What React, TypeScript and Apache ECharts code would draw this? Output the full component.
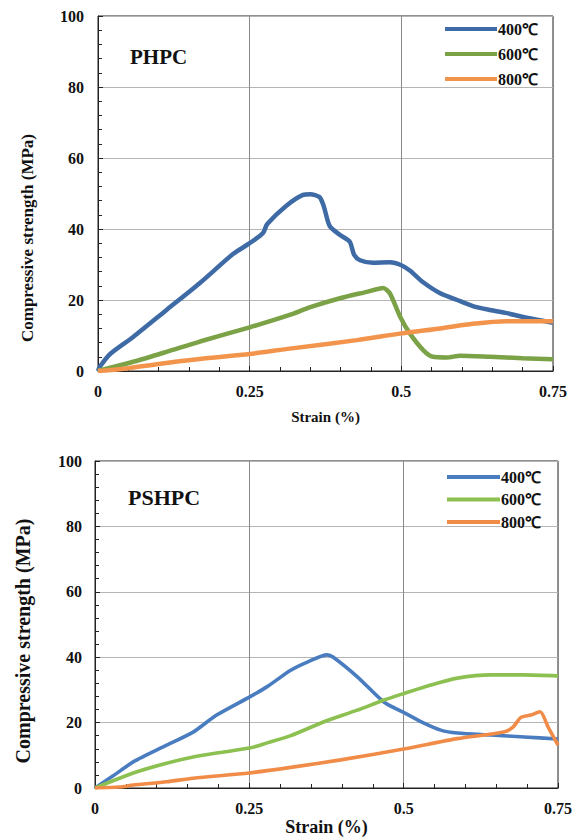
import React, { useEffect, useRef } from "react";
import * as echarts from "echarts";

// ---------- PHPC (top chart) ----------
const phpc400Strain = [0, 0.003, 0.02, 0.058, 0.113, 0.168, 0.223, 0.25, 0.272, 0.279, 0.31, 0.338, 0.35, 0.365, 0.372, 0.382, 0.399, 0.415, 0.422, 0.432, 0.453, 0.481, 0.5, 0.514, 0.536, 0.564, 0.592, 0.618, 0.646, 0.674, 0.701, 0.75];
const phpc400Value = [0, 1.2, 4.8, 9.6, 17.2, 24.8, 33, 36, 38.9, 41.4, 46.5, 49.6, 49.8, 49, 46.5, 40.8, 38.3, 36.4, 32.8, 31.2, 30.5, 30.6, 29.8, 28.3, 25, 21.9, 20, 18.3, 17.2, 16.3, 15.2, 13.6];

const phpc600Strain = [0, 0.058, 0.113, 0.168, 0.25, 0.316, 0.35, 0.399, 0.443, 0.47, 0.481, 0.498, 0.514, 0.536, 0.552, 0.575, 0.597, 0.646, 0.7, 0.75];
const phpc600Value = [0, 2.6, 5.4, 8.3, 12.3, 15.8, 18, 20.5, 22.3, 23.4, 21.9, 15.3, 10.6, 5.9, 4.0, 3.8, 4.3, 4.0, 3.6, 3.3];

const phpc800Strain = [0, 0.05, 0.1, 0.168, 0.25, 0.316, 0.427, 0.5, 0.564, 0.618, 0.674, 0.75];
const phpc800Value = [0, 0.8, 2, 3.4, 4.8, 6.3, 8.7, 10.6, 12, 13.3, 14, 14];

// ---------- PSHPC (bottom chart) ----------
const pshpc400Strain = [0, 0.03, 0.062, 0.116, 0.159, 0.197, 0.25, 0.279, 0.317, 0.344, 0.376, 0.386, 0.425, 0.468, 0.502, 0.532, 0.56, 0.587, 0.641, 0.695, 0.75];
const pshpc400Value = [0, 3.8, 8, 13.1, 17.1, 22.3, 27.8, 31, 36, 38.5, 40.7, 40, 34, 26.3, 22.9, 19.9, 17.7, 16.8, 16.2, 15.6, 15];

const pshpc600Strain = [0, 0.062, 0.116, 0.159, 0.197, 0.25, 0.279, 0.317, 0.37, 0.425, 0.468, 0.502, 0.544, 0.587, 0.641, 0.695, 0.75];
const pshpc600Value = [0, 4.6, 7.6, 9.5, 10.7, 12.2, 13.8, 16, 20.2, 23.8, 26.9, 29, 31.5, 33.6, 34.6, 34.6, 34.3];

const pshpc800Strain = [0, 0.04, 0.062, 0.116, 0.159, 0.25, 0.317, 0.398, 0.502, 0.587, 0.662, 0.677, 0.69, 0.706, 0.721, 0.734, 0.75];
const pshpc800Value = [0, 0.3, 0.9, 1.9, 3, 4.6, 6.3, 8.6, 12, 15.1, 17.1, 18.6, 21.6, 22.3, 23.3, 18.6, 13.1];

const seriesNames = ["400℃", "600℃", "800℃"];
const xTicks = [0, 0.25, 0.5, 0.75];
const yTicks = [0, 20, 40, 60, 80, 100];
const panelTitles = ["PHPC", "PSHPC"];
const xAxisName = "Strain (%)";
const yAxisName = "Compressive strength (MPa)";

const topColors = ["#3E6BA5", "#7BA246", "#F3944D"];
const bottomColors = ["#4A7CC0", "#8CC050", "#F08C48"];

const zip = (xs: number[], ys: number[]) => xs.map((x, i) => [x, ys[i]]);

const SERIF = "Liberation Serif";

function makeX(gridIndex: number, nameGap: number, nameSize: number) {
  return {
    gridIndex,
    type: "value",
    min: xTicks[0],
    max: xTicks[xTicks.length - 1],
    interval: 0.25,
    name: xAxisName,
    nameLocation: "middle",
    nameGap,
    nameTextStyle: { fontFamily: SERIF, fontWeight: "bold", fontSize: nameSize, color: "#111" },
    axisLine: { show: true, lineStyle: { color: "#222", width: 1 } },
    axisTick: { show: true, inside: true, length: 5, lineStyle: { color: "#222" } },
    minorTick: { show: true, splitNumber: 5, length: 4, lineStyle: { color: "#222" } },
    splitLine: { show: true, lineStyle: { color: "#8a8a8a", width: 1 } },
    axisLabel: { fontFamily: SERIF, fontWeight: "bold", fontSize: 16, color: "#111", margin: 12 },
  };
}

function makeY(gridIndex: number, margin: number) {
  return {
    gridIndex,
    type: "value",
    min: yTicks[0],
    max: yTicks[yTicks.length - 1],
    interval: 20,
    axisLine: { show: true, lineStyle: { color: "#222", width: 1 } },
    axisTick: { show: true, inside: true, length: 5, lineStyle: { color: "#222" } },
    minorTick: { show: true, splitNumber: 5, length: 4, lineStyle: { color: "#222" } },
    splitLine: { show: true, lineStyle: { color: "#b5b5b5", width: 1 } },
    axisLabel: { fontFamily: SERIF, fontWeight: "bold", fontSize: 16, color: "#111", margin },
  };
}

export default function App() {
  const ref = useRef<HTMLDivElement>(null);
  useEffect(() => {
    if (!ref.current) return;
    const chart = echarts.init(ref.current, null, { renderer: "svg" });
    const topData = [zip(phpc400Strain, phpc400Value), zip(phpc600Strain, phpc600Value), zip(phpc800Strain, phpc800Value)];
    const bottomData = [zip(pshpc400Strain, pshpc400Value), zip(pshpc600Strain, pshpc600Value), zip(pshpc800Strain, pshpc800Value)];
    const series: any[] = [];
    seriesNames.forEach((n, i) => {
      series.push({
        name: n,
        type: "line",
        xAxisIndex: 0,
        yAxisIndex: 0,
        data: topData[i],
        showSymbol: false,
        symbol: "none",
        smooth: 0.25,
        lineStyle: { color: topColors[i], width: 4.5 },
        itemStyle: { color: topColors[i] },
      });
    });
    seriesNames.forEach((n, i) => {
      series.push({
        name: n + " ",
        type: "line",
        xAxisIndex: 1,
        yAxisIndex: 1,
        data: bottomData[i],
        showSymbol: false,
        symbol: "none",
        smooth: 0.25,
        lineStyle: { color: bottomColors[i], width: 3.6 },
        itemStyle: { color: bottomColors[i] },
      });
    });
    chart.setOption({
      animation: false,
      backgroundColor: "#ffffff",
      textStyle: { fontFamily: SERIF },
      grid: [
        { left: 98, top: 16, width: 455, height: 355, show: true, borderColor: "#222", borderWidth: 1 },
        { left: 95, top: 461, width: 463, height: 327, show: true, borderColor: "#222", borderWidth: 1 },
      ],
      xAxis: [makeX(0, 38, 15), makeX(1, 30, 18)],
      yAxis: [makeY(0, 14), makeY(1, 13)],
      legend: [
        {
          data: seriesNames,
          orient: "vertical",
          left: 440,
          top: 16,
          padding: 5,
          icon: "rect",
          itemWidth: 52,
          itemHeight: 4,
          itemGap: 9,
          selectedMode: false,
          textStyle: { fontFamily: SERIF, fontWeight: "bold", fontSize: 16, lineHeight: 15, color: "#111", padding: [0, 0, 0, -4] },
        },
        {
          data: seriesNames.map((n) => n + " "),
          formatter: (n: string) => n.trim(),
          orient: "vertical",
          left: 442,
          top: 464,
          padding: 5,
          icon: "rect",
          itemWidth: 53,
          itemHeight: 4,
          itemGap: 6.5,
          selectedMode: false,
          textStyle: { fontFamily: SERIF, fontWeight: "bold", fontSize: 16, lineHeight: 16, color: "#111", padding: [0, 0, 0, -4] },
        },
      ],
      graphic: [
        {
          type: "text",
          left: 130,
          top: 46,
          style: { text: panelTitles[0], fontFamily: SERIF, fontWeight: "bold", fontSize: 21, fill: "#111" },
        },
        {
          type: "text",
          left: 128,
          top: 486,
          style: { text: panelTitles[1], fontFamily: SERIF, fontWeight: "bold", fontSize: 22, fill: "#111" },
        },
        {
          type: "text",
          x: 27,
          y: 238,
          rotation: Math.PI / 2,
          style: { text: yAxisName, fontFamily: SERIF, fontWeight: "bold", fontSize: 17, fill: "#111", align: "center", verticalAlign: "middle" },
        },
        {
          type: "text",
          x: 23,
          y: 641,
          rotation: Math.PI / 2,
          style: { text: yAxisName, fontFamily: SERIF, fontWeight: "bold", fontSize: 20, fill: "#111", align: "center", verticalAlign: "middle" },
        },
      ],
      series,
    });
    return () => chart.dispose();
  }, []);
  return <div ref={ref} style={{ position: "absolute", left: 0, top: 0, width: 579, height: 840 }} />;
}
